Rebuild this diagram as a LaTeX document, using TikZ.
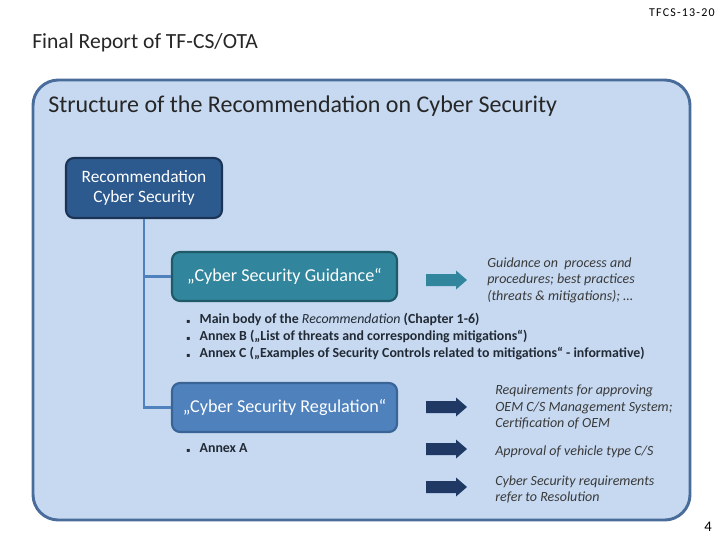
\documentclass[tikz,border=0pt]{standalone}
\usepackage{fontspec}
\setmainfont{Carlito}
\newfontfamily\symfont{DejaVu Sans}
\definecolor{panelfill}{HTML}{C6D9F1}
\definecolor{paneldraw}{HTML}{4A6C9B}
\definecolor{recfill}{HTML}{2D5A8E}
\definecolor{recdraw}{HTML}{1B3456}
\definecolor{guidfill}{HTML}{31859C}
\definecolor{guiddraw}{HTML}{1F5A68}
\definecolor{regfill}{HTML}{4F81BD}
\definecolor{regdraw}{HTML}{3A6496}
\definecolor{navyarrow}{HTML}{1F3864}
\definecolor{linkblue}{HTML}{4F81BD}
\definecolor{notetext}{HTML}{3A3A3A}
\definecolor{bullettext}{HTML}{222A35}
\newcommand{\bul}{{\symfont\fontsize{4.5}{5}\selectfont ▪}\hspace{7pt}}
\tikzset{
  box/.style={rounded corners=6pt, line width=1.6pt, text=white, align=center, inner sep=0pt},
  blkarrow/.pic={\fill (0,-6) -- (30,-6) -- (30,-9.5) -- (41,0) -- (30,9.5) -- (30,6) -- (0,6) -- cycle;},
  note/.style={anchor=west, align=left, inner sep=0pt, text=notetext,
     font=\fontsize{10.5}{12.4}\selectfont\itshape},
  bullets/.style={anchor=west, align=left, inner sep=0pt, text=bullettext,
     font=\fontsize{10.4}{12.4}\selectfont\bfseries},
  link/.style={draw=linkblue, line width=2.2pt}
}
\begin{document}
\begin{tikzpicture}[x=0.75pt,y=-0.75pt]
\useasboundingbox (0,0) rectangle (720,540);
\node[anchor=east, inner sep=0pt, font=\fontsize{9}{10}\selectfont\addfontfeature{LetterSpace=10}] (code) at (715,13) {TFCS-13-20};
\node[anchor=west, inner sep=0pt, font=\fontsize{16.2}{18}\selectfont, text=black!85] (title) at (32,43) {Final Report of TF-CS/OTA};
\node[draw=paneldraw, fill=panelfill, line width=2.2pt, rounded corners=19pt,
      minimum width=492.75pt, minimum height=330pt, inner sep=0pt] (panel) at (361.5,300) {};
\node[anchor=west, inner sep=0pt, font=\fontsize{18}{20}\selectfont, text=black!85] (subtitle) at (48,106) {Structure of the Recommendation on Cyber Security};
\node[box, draw=recdraw, fill=recfill, minimum width=117pt, minimum height=45pt,
      font=\fontsize{13}{15.5}\selectfont] (rec) at (144,188) {Recommendation\\Cyber Security};
\node[box, draw=guiddraw, fill=guidfill, minimum width=168.75pt, minimum height=36.75pt,
      font=\fontsize{13.6}{15}\selectfont] (guid) at (284.5,276.5) {„Cyber Security Guidance“};
\node[box, draw=regdraw, fill=regfill, minimum width=168.75pt, minimum height=36.75pt,
      font=\fontsize{13.6}{15}\selectfont] (reg) at (284.5,407.5) {„Cyber Security Regulation“};
\draw[link] (rec.south) |- (reg.west);
\draw[link] (rec.south |- guid.west) -- (guid.west);
\pic[guidfill] (a0) at (426,280) {blkarrow};
\pic[navyarrow] (a1) at (426,407) {blkarrow};
\pic[navyarrow] (a2) at (426,449) {blkarrow};
\pic[navyarrow] (a3) at (426,487) {blkarrow};
\node[note] (n0) at (487,280) {Guidance on \ process and\\procedures; best practices\\(threats \& mitigations); …};
\node[note] (n1) at (495,407) {Requirements for approving\\OEM C/S Management System;\\Certification of OEM};
\node[note] (n2) at (495,452) {Approval of vehicle type C/S};
\node[note] (n3) at (495,489.5) {Cyber Security requirements\\refer to Resolution};
\node[bullets] (b0) at (186,336.5) {\bul Main body of the {\mdseries\itshape Recommendation} (Chapter 1-6)\\
\bul Annex B („List of threats and corresponding mitigations“)\\
\bul Annex C („Examples of Security Controls related to mitigations“ - informative)};
\node[bullets] (b1) at (186,448) {\bul Annex A};
\node[anchor=east, inner sep=0pt, font=\fontsize{11}{12}\selectfont] (page) at (712,527) {4};
\end{tikzpicture}
\end{document}
